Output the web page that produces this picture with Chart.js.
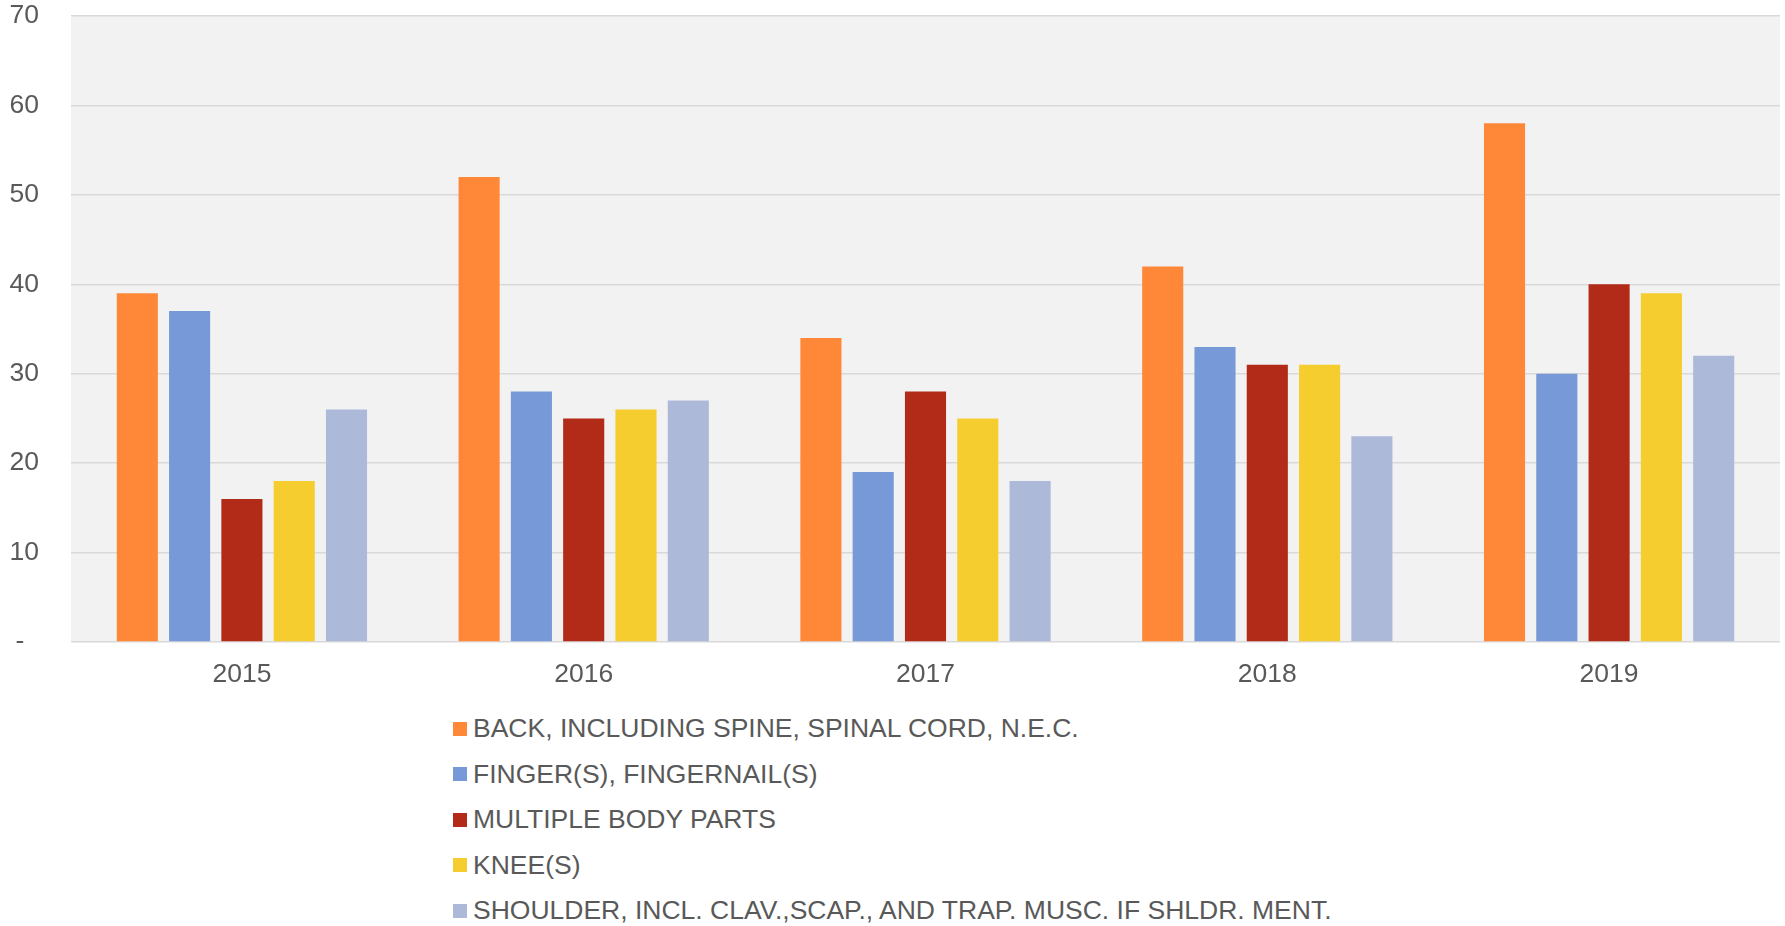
<!DOCTYPE html>
<html>
<head>
<meta charset="utf-8">
<script src="https://cdn.jsdelivr.net/npm/chart.js@4.4.0/dist/chart.umd.min.js"></script>
<style>
    body { margin: 0; background: #fff; font-family: "Liberation Sans", Arial, sans-serif; }
    #wrap { position: relative; width: 1785px; height: 926px; }
    #chartBox { position: absolute; left: 0; top: 0; width: 1785px; height: 700px; }
    #legend { position: absolute; left: 453px; top: 706px; color: #595959; font-size: 26.5px; }
    #legend .item { height: 45.5px; display: flex; align-items: center; white-space: nowrap; }
    #legend .box { width: 14px; height: 14px; margin-right: 6px; }
</style>
</head>
<body>
<div id="wrap">
    <div id="chartBox"><canvas id="injuryChart"></canvas></div>
    <div id="legend"></div>
</div>
<script>
// Data
const years = ['2015', '2016', '2017', '2018', '2019'];
const seriesNames = [
    'BACK, INCLUDING SPINE, SPINAL CORD, N.E.C.',
    'FINGER(S), FINGERNAIL(S)',
    'MULTIPLE BODY PARTS',
    'KNEE(S)',
    'SHOULDER, INCL. CLAV.,SCAP., AND TRAP. MUSC. IF SHLDR. MENT.'
];
const backValues = [39, 52, 34, 42, 58];
const fingerValues = [37, 28, 19, 33, 30];
const multipleValues = [16, 25, 28, 31, 40];
const kneeValues = [18, 26, 25, 31, 39];
const shoulderValues = [26, 27, 18, 23, 32];
const yTicks = [0, 10, 20, 30, 40, 50, 60, 70];

const seriesColors = ['#ff8838', '#7799d8', '#b22a18', '#f5cd2e', '#adb9d8'];
const allValues = [backValues, fingerValues, multipleValues, kneeValues, shoulderValues];

let injuryChart;

// plot area background
const plotBackground = {
    id: 'plotBackground',
    beforeDraw(chart) {
        const a = chart.chartArea;
        const ctx = chart.ctx;
        ctx.save();
        ctx.fillStyle = '#f2f2f2';
        ctx.fillRect(a.left, a.top, a.right - a.left, a.bottom - a.top);
        ctx.restore();
    }
};

document.addEventListener('DOMContentLoaded', function() {
    const ctx = document.getElementById('injuryChart').getContext('2d');

    injuryChart = new Chart(ctx, {
        type: 'bar',
        data: {
            labels: years,
            datasets: seriesNames.map((name, i) => ({
                label: name,
                data: allValues[i],
                backgroundColor: seriesColors[i],
                borderWidth: 0,
                categoryPercentage: 0.765,
                barPercentage: 0.786
            }))
        },
        options: {
            responsive: true,
            maintainAspectRatio: false,
            animation: false,
            layout: { padding: { top: 0, right: 5, bottom: 0, left: 0 } },
            plugins: {
                legend: { display: false },
                tooltip: { enabled: false }
            },
            scales: {
                x: {
                    grid: { display: false, drawTicks: false },
                    border: { display: false },
                    afterFit: function(scale) { scale.height = 58; },
                    ticks: {
                        color: '#595959',
                        font: { family: '"Liberation Sans", Arial, sans-serif', size: 26.5 },
                        padding: 17
                    }
                },
                y: {
                    min: 0,
                    max: 70,
                    afterFit: function(scale) {
                        scale.width = 71;
                        scale.paddingTop = 16;
                        scale.paddingBottom = 0;
                    },
                    afterBuildTicks: function(scale) {
                        scale.ticks = yTicks.map(v => ({ value: v }));
                    },
                    grid: { color: '#d9d9d9', lineWidth: 1.5, drawTicks: false },
                    border: { display: false },
                    ticks: {
                        color: '#595959',
                        font: { family: '"Liberation Sans", Arial, sans-serif', size: 26.5 },
                        padding: 32,
                        callback: function(value) {
                            return value === 0 ? '-  ' : value;
                        }
                    }
                }
            }
        },
        plugins: [plotBackground]
    });

    buildLegend();
});

function buildLegend() {
    const legend = document.getElementById('legend');
    injuryChart.data.datasets.forEach(ds => {
        const item = document.createElement('div');
        item.className = 'item';
        const box = document.createElement('span');
        box.className = 'box';
        box.style.background = ds.backgroundColor;
        const text = document.createElement('span');
        text.textContent = ds.label;
        item.appendChild(box);
        item.appendChild(text);
        legend.appendChild(item);
    });
}
</script>
</body>
</html>
